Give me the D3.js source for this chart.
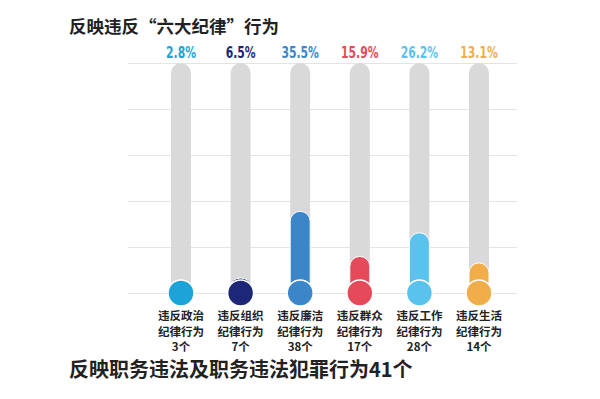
<!DOCTYPE html>
<html>
<head>
<meta charset="utf-8">
<script src="https://cdn.jsdelivr.net/npm/d3@7"></script>
<style>
  body { margin: 0; background: #fff; }
  text { font-family: "Noto Sans CJK SC", "Noto Sans", sans-serif; }
</style>
</head>
<body>
<svg id="chart"></svg>
<script>
const width = 600;
const height = 399;

// data
const categories = ['违反政治纪律行为', '违反组织纪律行为', '违反廉洁纪律行为', '违反群众纪律行为', '违反工作纪律行为', '违反生活纪律行为'];
const percents = [2.8, 6.5, 35.5, 15.9, 26.2, 13.1];
const counts = [3, 7, 38, 17, 28, 14];
const colors = ['#1ca3d8', '#1d2777', '#3b86c9', '#e44a5a', '#59c3ee', '#f1ad4a'];
const gridTicks = [0, 20, 40, 60, 80, 100];

const rows = categories.map((c, i) => ({ name: c, pct: percents[i], count: counts[i], color: colors[i] }));

const svg = d3.select('#chart').attr('width', width).attr('height', height);

// scales
const x = d3.scalePoint().domain(categories).range([181, 479]);
const y = d3.scaleLinear().domain([0, 100]).range([293, 63]);

// grid lines
svg.append('g')
  .attr('transform', 'translate(128,0)')
  .call(d3.axisLeft(y).tickValues(gridTicks).tickSize(-389).tickFormat(''))
  .call(g => g.select('.domain').remove())
  .call(g => g.selectAll('line').attr('stroke', '#e4e4e4').attr('stroke-width', 1));

const barW = 20;
const bars = svg.selectAll('.bar').data(rows).enter()
  .append('g').classed('bar', true)
  .attr('transform', d => `translate(${x(d.name)},0)`);

// gray track
bars.append('rect')
  .attr('x', -barW / 2)
  .attr('y', y(100))
  .attr('width', barW)
  .attr('height', y(0) - y(100))
  .attr('rx', barW / 2)
  .attr('fill', '#d9d9d9');

// coloured fill
bars.append('rect')
  .attr('x', -barW / 2)
  .attr('y', d => y(d.pct))
  .attr('width', barW)
  .attr('height', d => y(0) - y(d.pct))
  .attr('rx', barW / 2)
  .attr('fill', d => d.color)
  .attr('stroke', '#fff')
  .attr('stroke-width', 1);

// bulb
bars.append('circle')
  .attr('cy', y(0))
  .attr('r', 13)
  .attr('fill', d => d.color)
  .attr('stroke', '#fff')
  .attr('stroke-width', 1.5);

// percentage labels (condensed look)
bars.append('text')
  .attr('transform', 'translate(0,58) scale(0.72,1)')
  .attr('text-anchor', 'middle')
  .style('font-family', '"DejaVu Sans", sans-serif')
  .style('font-weight', 'bold')
  .style('font-size', '15px')
  .attr('fill', d => d.color)
  .text(d => d.pct.toFixed(1) + '%');

// category labels, one text per line
const lineY = [320, 335.5, 351];
const labelLines = d => [d.name.slice(0, 4), d.name.slice(4), d.count + '个'];
bars.selectAll('.cat')
  .data(d => labelLines(d))
  .enter()
  .append('text')
  .classed('cat', true)
  .attr('x', 0)
  .attr('y', (d, i) => lineY[i])
  .attr('text-anchor', 'middle')
  .style('font-size', '11.5px')
  .style('font-weight', 'bold')
  .attr('fill', '#222')
  .text(d => d);

// titles
svg.append('text')
  .attr('x', 69)
  .attr('y', 33)
  .style('font-size', '17.5px')
  .style('font-weight', 'bold')
  .attr('fill', '#222')
  .text('反映违反“六大纪律”行为');

svg.append('text')
  .attr('x', 69)
  .attr('y', 377)
  .style('font-size', '20px')
  .style('font-weight', 'bold')
  .attr('fill', '#222')
  .text('反映职务违法及职务违法犯罪行为41个');
</script>
</body>
</html>
